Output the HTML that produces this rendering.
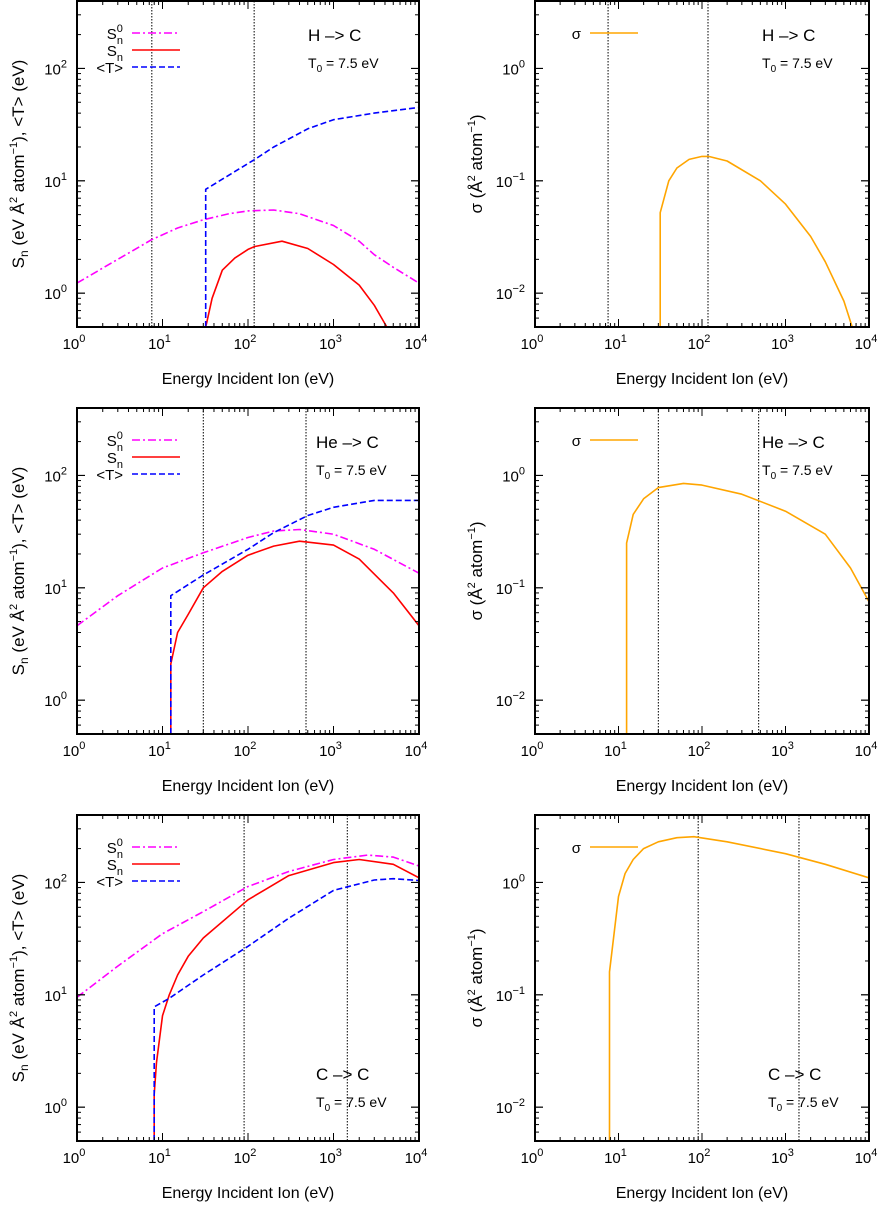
<!DOCTYPE html>
<html><head><meta charset="utf-8">
<style>
html,body{margin:0;padding:0;background:#fff;}
svg{display:block;font-family:"Liberation Sans",sans-serif;}
</style></head>
<body>
<svg id="fig" width="881" height="1207" viewBox="0 0 881 1207"></svg>
<script>
// ---------- data (energies in eV) ----------
// H -> C
const hS0x=[1,3,7.5,15,30,60,100,200,400,1000,2000,3000,5000,10000];
const hS0y=[1.23,2.0,3.0,3.8,4.5,5.1,5.4,5.5,5.1,4.0,2.9,2.2,1.7,1.23];
const hSnx=[32,33,38,50,70,100,120,250,500,1000,2000,3000,4200];
const hSny=[0.5,0.55,0.9,1.6,2.05,2.45,2.6,2.9,2.5,1.8,1.18,0.78,0.5];
const hTx=[32,32,120,200,500,1000,3000,10000];
const hTy=[0.5,8.4,15.5,20,29,35,40,45];
const hSigx=[31.6,31.6,40,50,70,100,120,200,500,1000,2000,3000,5000,6300];
const hSigy=[0.005,0.052,0.1,0.13,0.155,0.165,0.165,0.15,0.1,0.062,0.032,0.019,0.0085,0.005];
const hVlines=[7.5,118];
// He -> C
const heS0x=[1,3,10,30,100,200,400,1000,3000,10000];
const heS0y=[4.6,8.5,15,20.5,28,32,33,30,22,13.5];
const heSnx=[12.5,12.5,15,20,30,50,100,200,400,1000,2000,5000,10000];
const heSny=[0.5,2.1,4,5.8,10,14,19.5,23.5,26,24,18,9,4.6];
const heTx=[12.5,12.5,30,100,200,500,1000,3000,10000];
const heTy=[0.5,8.5,13,22,31,44,52,60,60];
const heSigx=[12.5,12.5,15,20,30,60,100,300,1000,3000,6000,10000];
const heSigy=[0.005,0.25,0.45,0.62,0.78,0.85,0.82,0.68,0.48,0.3,0.15,0.075];
const heVlines=[30,477];
// C -> C
const cS0x=[1,3,10,30,100,300,1000,2500,5000,10000];
const cS0y=[9.5,18,35,55,92,125,160,175,168,140];
const cSnx=[8,8,8.5,10,12,15,20,30,100,300,1000,2000,5000,10000];
const cSny=[0.5,1.3,2.5,6.5,10,15,22,32,70,115,150,160,145,110];
const cTx=[8,8,12,30,100,300,1000,3000,5000,10000];
const cTy=[0.5,7.8,9.3,15,27,48,85,105,108,104];
const cSigx=[7.8,7.8,10,12,15,20,30,50,80,200,1000,3000,10000];
const cSigy=[0.005,0.16,0.75,1.2,1.6,2.0,2.3,2.5,2.55,2.3,1.8,1.45,1.1];
const cVlines=[90,1450];
const xTickExp=[0,1,2,3,4];
const leftTickExp=[0,1,2];
const rightTickExp=[-2,-1,0];

const NS="http://www.w3.org/2000/svg";
const svg=document.getElementById('fig');
function el(tag,attrs,parent){const e=document.createElementNS(NS,tag);for(const k in attrs)e.setAttribute(k,attrs[k]);(parent||svg).appendChild(e);return e;}

function panel(px0,px1,top,yMinLog,yMaxLog,opts){
  const g=el('g',{});
  
  
  const h=326;
  const X=v=>px0+(Math.log10(v))/4*(px1-px0);
  const Y=v=>top+h-(Math.log10(v)-yMinLog)/(yMaxLog-yMinLog)*h;
  const cid='clip'+opts.name;
  const cp=el('clipPath',{id:cid},g);el('rect',{x:px0,y:top,width:px1-px0,height:h},cp);
  opts.vlines.forEach(v=>{
    const l=el('line',{x1:X(v),x2:X(v),y1:top,y2:top+h,stroke:'#000','stroke-width':1,'stroke-dasharray':'1.5,1.5'},g);
    
    
  });
  opts.series.forEach(s=>{
    const d=s.x.map((v,i)=>(i?'L':'M')+X(v).toFixed(1)+','+Y(s.y[i]).toFixed(1)).join('');
    const p=el('path',{d:d,fill:'none',stroke:s.color,'stroke-width':1.6,'stroke-linejoin':'round','stroke-dasharray':s.dash||'none','clip-path':'url(#'+cid+')'},g);
    
    
  });
  const tk=el('g',{stroke:'#000','stroke-width':1},g);
  for(let e=0;e<4;e++)for(let m=1;m<=10;m++){
    const x=X(m*Math.pow(10,e));const L=(m==1||m==10)?8:4;
    el('line',{x1:x,x2:x,y1:top+h,y2:top+h-L},tk);el('line',{x1:x,x2:x,y1:top,y2:top+L},tk);
  }
  for(let e=Math.floor(yMinLog);e<Math.ceil(yMaxLog);e++)for(let m=1;m<=10;m++){
    const v=m*Math.pow(10,e);const lv=Math.log10(v);if(lv<yMinLog-1e-9||lv>yMaxLog+1e-9)continue;
    const y=Y(v);const L=(m==1||m==10)?8:4;
    el('line',{x1:px0,x2:px0+L,y1:y,y2:y},tk);el('line',{x1:px1,x2:px1-L,y1:y,y2:y},tk);
  }
  const fr=el('rect',{x:px0,y:top,width:px1-px0,height:h,fill:'none',stroke:'#000','stroke-width':2},g);
  
  
  xTickExp.forEach(e=>{
    const t=el('text',{x:X(Math.pow(10,e))-3,y:top+h+22,'font-size':15,'text-anchor':'middle'},g);
    t.innerHTML='10<tspan dy="-7" font-size="11">'+e+'</tspan>';
    
    
  });
  opts.yTicks.forEach(e=>{
    const t=el('text',{x:px0-10,y:Y(Math.pow(10,e))+6,'font-size':15,'text-anchor':'end'},g);
    t.innerHTML='10<tspan dy="-7" font-size="11">'+(e<0?'\u2212'+(-e):e)+'</tspan>';
    
    
  });
  const xt=el('text',{x:(px0+px1)/2,y:top+h+57,'font-size':16,'text-anchor':'middle'},g);
  xt.textContent='Energy Incident Ion  (eV)';
  
  
  const yt=el('text',{transform:'translate('+(px0-53)+','+(top+h/2)+') rotate(-90)','font-size':17,'text-anchor':'middle'},g);
  yt.innerHTML=opts.ytitle;
  
  
  opts.series.forEach((s,i)=>{
    const ly=top+32+i*17;
    const l=el('line',{x1:px0+55,x2:px0+103,y1:ly,y2:ly,stroke:s.color,'stroke-width':1.6,'stroke-dasharray':s.dash||'none'},g);
    
    
    const t=el('text',{x:px0+46,y:ly+6,'font-size':15,'text-anchor':'end'},g);
    t.innerHTML=s.label;
    
    
  });
  const ti=el('text',{x:opts.titleX,y:top+opts.titleY,'font-size':17},g);
  ti.textContent=opts.title;
  
  
  const t0=el('text',{x:opts.titleX,y:top+opts.titleY+27,'font-size':14},g);
  t0.innerHTML='T<tspan dy="4" font-size="10">0</tspan><tspan dy="-4"> = 7.5 eV</tspan>';
  
  
}
const S0lab='S<tspan dy="-7" font-size="11">0</tspan><tspan dy="12" font-size="11" dx="-6">n</tspan>';
const Snlab='S<tspan dy="5" font-size="11">n</tspan>';
const Tlab='&lt;T&gt;';
const leftTitle='S<tspan dy="4" font-size="12">n</tspan><tspan dy="-4">  (eV Å</tspan><tspan dy="-7" font-size="11">2</tspan><tspan dy="7"> atom</tspan><tspan dy="-7" font-size="11">−1</tspan><tspan dy="7">),   &lt;T&gt;  (eV)</tspan>';
const rightTitle='σ  (Å<tspan dy="-7" font-size="11">2</tspan><tspan dy="7"> atom</tspan><tspan dy="-7" font-size="11">−1</tspan><tspan dy="7">)</tspan>';
const ylo=Math.log10(0.5),yhi=2.6,rlo=Math.log10(0.005),rhi=0.6;
const L0=77,L1=419,R0=535,R1=869;
const rows=[
 {top:1,name:'h',title:'H –> C',tx:[308,762],ty:[40,40],S0:[hS0x,hS0y],Sn:[hSnx,hSny],T:[hTx,hTy],Sig:[hSigx,hSigy],v:hVlines},
 {top:408,name:'he',title:'He –> C',tx:[316,762],ty:[40,40],S0:[heS0x,heS0y],Sn:[heSnx,heSny],T:[heTx,heTy],Sig:[heSigx,heSigy],v:heVlines},
 {top:815,name:'c',title:'C –>  C',tx:[316,768],ty:[265,265],S0:[cS0x,cS0y],Sn:[cSnx,cSny],T:[cTx,cTy],Sig:[cSigx,cSigy],v:cVlines}
];
rows.forEach(r=>{
  panel(L0,L1,r.top,ylo,yhi,{name:r.name+'-stopping-panel',vlines:r.v,yTicks:leftTickExp,ytitle:leftTitle,title:r.title,titleX:r.tx[0],titleY:r.ty[0],
    series:[{x:r.S0[0],y:r.S0[1],color:'#ff00ff',dash:'8,3,2,3',label:S0lab,name:'s0n-curve'},
            {x:r.Sn[0],y:r.Sn[1],color:'#ff0000',label:Snlab,name:'sn-curve'},
            {x:r.T[0],y:r.T[1],color:'#0000ff',dash:'6,3',label:Tlab,name:'mean-t-curve'}]});
  panel(R0,R1,r.top,rlo,rhi,{name:r.name+'-sigma-panel',vlines:r.v,yTicks:rightTickExp,ytitle:rightTitle,title:r.title.replace('–>  ','–> '),titleX:r.tx[1],titleY:r.ty[1],
    series:[{x:r.Sig[0],y:r.Sig[1],color:'#ffa500',label:'σ',name:'sigma-curve'}]});
});
</script>
</body></html>
